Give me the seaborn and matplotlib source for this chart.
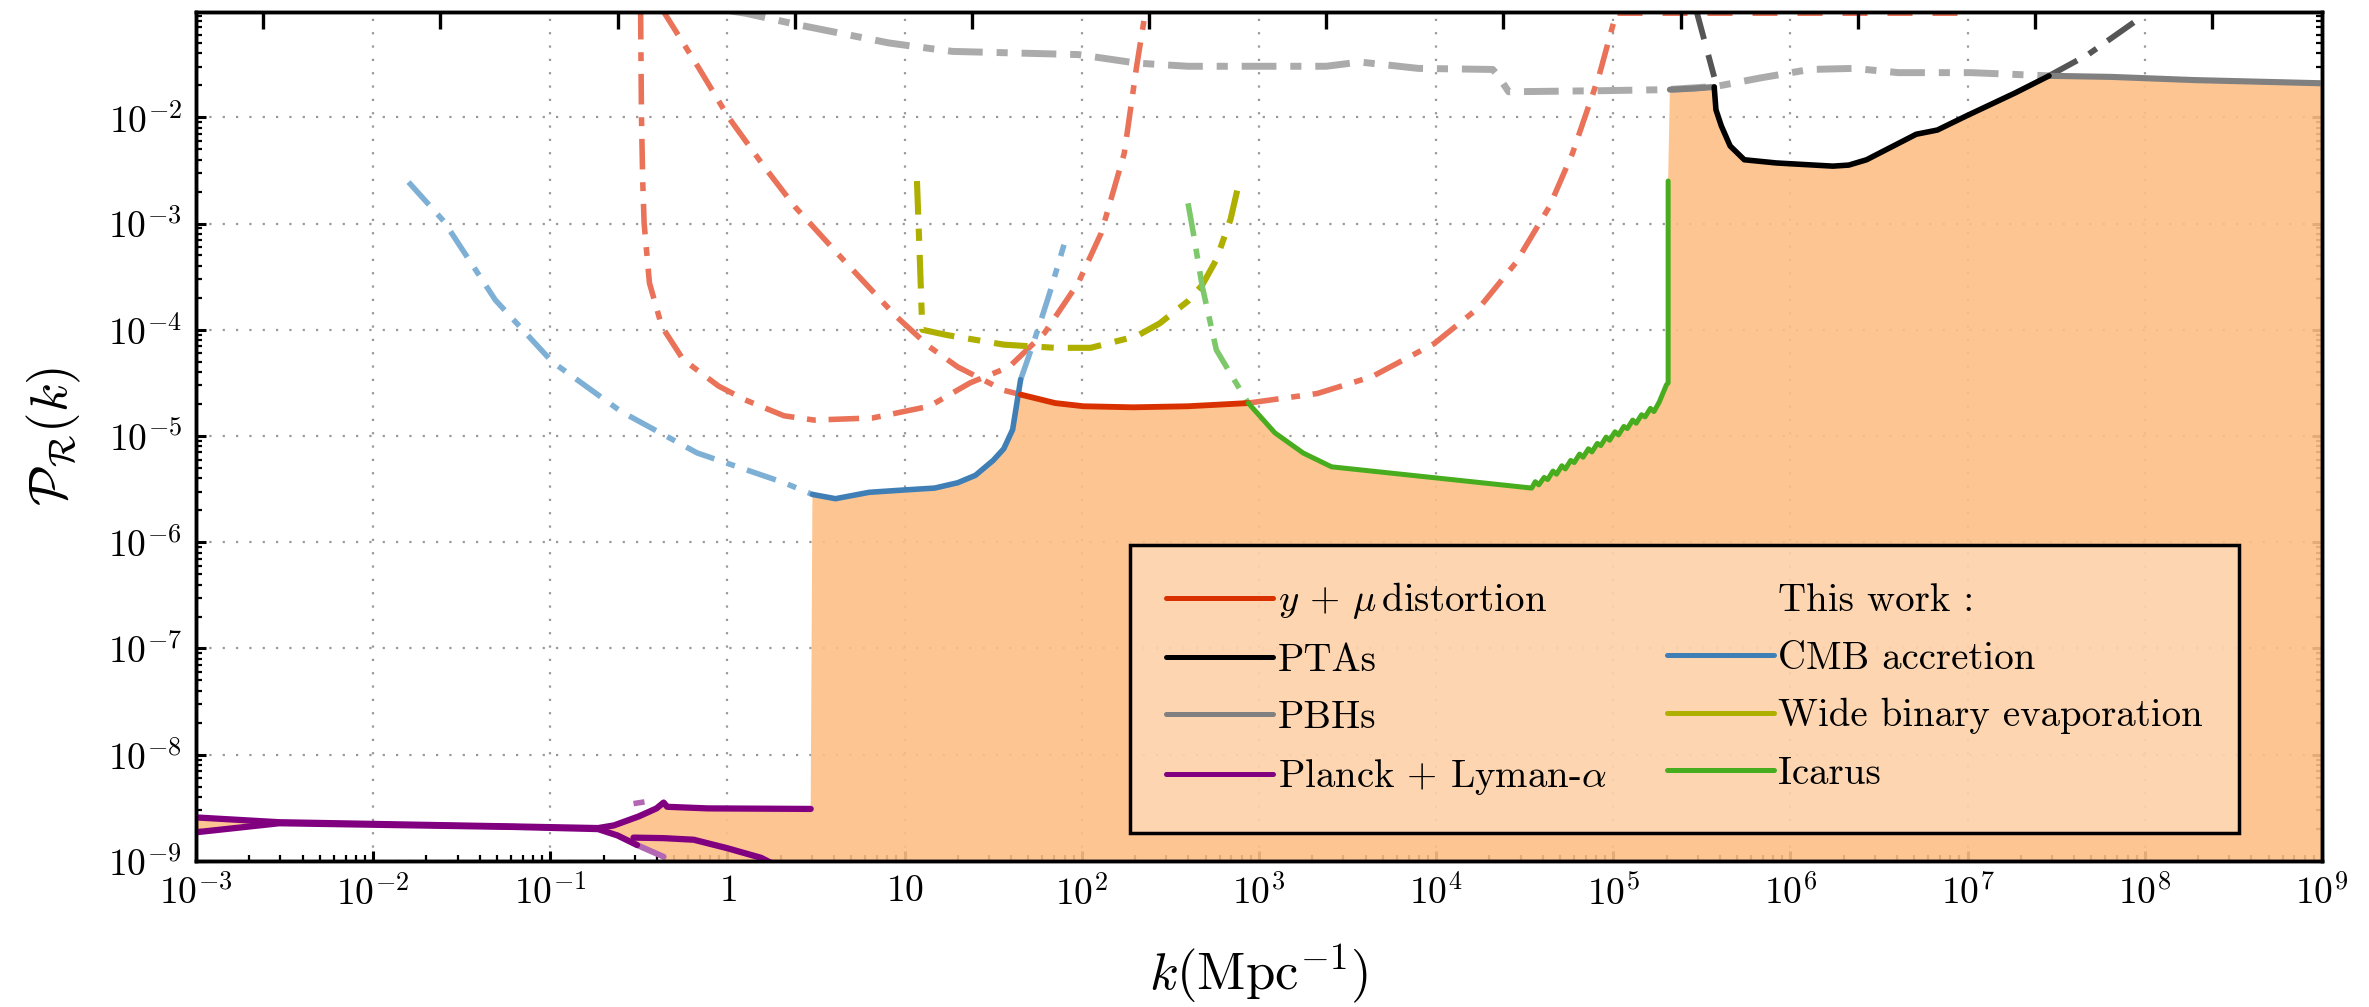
import numpy as np
import pandas as pd
import matplotlib
matplotlib.use("Agg")
import matplotlib.pyplot as plt
from matplotlib.lines import Line2D
from matplotlib.ticker import FixedLocator, FuncFormatter, LogLocator, NullFormatter, NullLocator
import seaborn as sns

# ---------------------------------------------------------------------------
# Bounds on the curvature power spectrum, stored as log10(k / Mpc^-1) and
# log10(P_R).
# ---------------------------------------------------------------------------

# Planck + Lyman-alpha
planck_upper_logk = [-3.00, -2.53, -1.20, -0.73, -0.64, -0.50, -0.40, -0.36, -0.34, -0.11, 0.47]
planck_upper_logp = [-8.59, -8.635, -8.675, -8.69, -8.665, -8.58, -8.505, -8.45, -8.49, -8.505, -8.51]
planck_lower_logk = [-3.00, -2.53, -1.20, -0.73, -0.62, -0.51]
planck_lower_logp = [-8.73, -8.645, -8.68, -8.70, -8.76, -8.85]
planck_tail_logk = [-0.51, -0.36]
planck_tail_logp = [-8.85, -8.96]
planck_branch_logk = [-0.53, -0.36, -0.19, 0.00, 0.19, 0.26]
planck_branch_logp = [-8.78, -8.785, -8.80, -8.88, -8.97, -9.03]
planck_dash_logk = [-0.53, -0.30]
planck_dash_logp = [-8.46, -8.40]

# CMB accretion (this work)
cmb_left_logk = [-1.80, -1.60, -1.31, -0.99, -0.60, -0.17, 0.32, 0.48]
cmb_left_logp = [-2.61, -2.98, -3.72, -4.30, -4.77, -5.16, -5.44, -5.55]
cmb_solid_logk = [0.48, 0.61, 0.80, 0.98, 1.17, 1.30, 1.40, 1.50, 1.56, 1.61, 1.655]
cmb_solid_logp = [-5.55, -5.59, -5.53, -5.51, -5.49, -5.44, -5.37, -5.23, -5.12, -4.94, -4.47]
cmb_right_logk = [1.655, 1.72, 1.77, 1.82, 1.90]
cmb_right_logp = [-4.47, -4.16, -3.91, -3.65, -3.20]

# y + mu spectral distortions
mu_solid_logk = [1.655, 1.85, 2.01, 2.29, 2.60, 2.94]
mu_solid_logp = [-4.61, -4.69, -4.72, -4.73, -4.72, -4.69]
mu_left_logk = [-0.37, -0.16, 0.006, 0.21, 0.38, 0.62, 0.95, 1.14, 1.30, 1.56, 1.655]
mu_left_logp = [-0.98, -1.54, -2.00, -2.47, -2.84, -3.28, -3.87, -4.16, -4.35, -4.57, -4.61]
mu_right_logk = [2.94, 3.33, 3.64, 3.99, 4.25, 4.45, 4.64, 4.77, 4.92, 5.02]
mu_right_logp = [-4.69, -4.60, -4.44, -4.13, -3.78, -3.37, -2.84, -2.34, -1.61, -1.00]
mu_top_logk = [5.02, 6.95]
mu_top_logp = [-1.018, -1.018]
mu_u_logk = [-0.49, -0.485, -0.478, -0.47, -0.44, -0.37, -0.25, -0.05, 0.10, 0.32, 0.49,
             0.82, 1.14, 1.37, 1.59, 1.79, 1.98, 2.11, 2.24, 2.31, 2.36]
mu_u_logp = [-0.98, -2.00, -2.60, -3.00, -3.56, -3.97, -4.28, -4.53, -4.66, -4.81, -4.85,
             -4.83, -4.72, -4.50, -4.35, -4.03, -3.56, -3.09, -2.34, -1.52, -1.00]

# Primordial black holes
pbh_dash_logk = [0.02, 0.10, 0.40, 0.91, 1.04, 1.27, 1.98, 2.31, 2.60, 3.38, 3.57, 3.90, 4.32,
                 4.35, 4.41, 4.93, 5.30, 5.58, 5.83, 6.11, 6.36, 6.61, 7.02, 7.46]
pbh_dash_logp = [-1.00, -1.02, -1.13, -1.30, -1.33, -1.38, -1.41, -1.49, -1.52, -1.52, -1.48, -1.54, -1.55,
                 -1.61, -1.76, -1.75, -1.74, -1.71, -1.63, -1.55, -1.54, -1.58, -1.58, -1.61]
pbh_solid1_logk = [5.32, 5.45, 5.57]
pbh_solid1_logp = [-1.74, -1.73, -1.715]
pbh_solid2_logk = [7.46, 7.81, 8.28, 9.00]
pbh_solid2_logp = [-1.61, -1.62, -1.65, -1.68]

# Pulsar timing arrays
pta_logk = [5.57, 5.58, 5.61, 5.66, 5.74, 5.92, 6.24, 6.33, 6.43, 6.71, 6.83, 6.99, 7.27, 7.46]
pta_logp = [-1.715, -1.93, -2.08, -2.27, -2.40, -2.43, -2.46, -2.45, -2.40, -2.16, -2.12, -1.99, -1.77, -1.61]
pta_left_logk = [5.47, 5.57]
pta_left_logp = [-1.00, -1.62]
pta_right_logk = [7.46, 7.68, 7.97]
pta_right_logp = [-1.61, -1.41, -1.07]

# Wide binary evaporation (this work)
wbe_logk = [1.07, 1.085, 1.10, 1.24, 1.56, 1.85, 2.05, 2.31, 2.44, 2.60, 2.68, 2.76, 2.84, 2.89]
wbe_logp = [-2.60, -3.28, -4.00, -4.05, -4.14, -4.17, -4.17, -4.06, -3.94, -3.73, -3.58, -3.34, -2.96, -2.60]

# Icarus (this work)
icarus_dash_logk = [2.60, 2.63, 2.68, 2.76, 2.86, 2.94]
icarus_dash_logp = [-2.81, -3.09, -3.59, -4.19, -4.47, -4.69]
icarus_logk = [2.94, 3.09, 3.25, 3.41, 4.54, 4.56, 4.58, 4.61, 4.63, 4.66, 4.68, 4.71, 4.73, 4.76,
               4.78, 4.81, 4.83, 4.86, 4.88, 4.91, 4.93, 4.96, 4.98, 5.01, 5.03, 5.06, 5.08, 5.11,
               5.13, 5.16, 5.18, 5.21, 5.23, 5.26, 5.28, 5.30, 5.31, 5.31]
icarus_logp = [-4.69, -4.97, -5.16, -5.29, -5.49, -5.43, -5.46, -5.39, -5.41, -5.33, -5.36, -5.28, -5.31, -5.23,
               -5.25, -5.17, -5.20, -5.12, -5.15, -5.07, -5.09, -5.01, -5.04, -4.96, -4.99, -4.91, -4.93, -4.85,
               -4.88, -4.80, -4.82, -4.74, -4.77, -4.68, -4.60, -4.52, -4.50, -2.60]

# Axis decorations
x_decades = list(range(-3, 10))
y_decades = list(range(-9, -1))
top_tick_logk = [n + 0.38 for n in range(-3, 9)]

legend_labels = [r"$y\,+\,\mu\,$distortion", "PTAs", "PBHs", r"Planck + Lyman-$\alpha$",
                 "This work :", "CMB accretion", "Wide binary evaporation", "Icarus"]

# ---------------------------------------------------------------------------
C_RED, C_RED_D = "#D93000", "#E97259"
C_BLUE, C_BLUE_D = "#3F7FB5", "#7EB0D6"
C_BLACK, C_BLACK_D = "#000000", "#555555"
C_GRAY, C_GRAY_D = "#808080", "#ABABAB"
C_PURPLE, C_PURPLE_L = "#800080", "#B366B3"
C_OLIVE = "#AFAF00"
C_GREEN, C_GREEN_D = "#48AD1E", "#7DC86A"
C_FILL = "#FDBF86"

sns.set_theme(style="ticks")
plt.rcParams.update({
    "font.family": ["cmr10", "DejaVu Serif"],
    "mathtext.fontset": "cm",
    "axes.unicode_minus": False,
    "axes.edgecolor": "black",
    "axes.linewidth": 2.5,
    "xtick.color": "black",
    "ytick.color": "black",
    "text.color": "black",
    "axes.labelcolor": "black",
})

fig = plt.figure(figsize=(23.69, 10.07), dpi=100)
ax = fig.add_axes([0.0827, 0.145, 0.8974, 0.843])
ax.set_xscale("log")
ax.set_yscale("log")


def pw(v):
    return 10.0 ** np.asarray(v, dtype=float)


def draw(logk, logp, color, lw, ls="-", alpha=1.0, z=3):
    df = pd.DataFrame({"k": pw(logk), "P": pw(logp)})
    sns.lineplot(data=df, x="k", y="P", ax=ax, color=color, linewidth=lw, linestyle=ls,
                 alpha=alpha, sort=False, estimator=None, legend=False, zorder=z)


# excluded region: envelope of the solid bounds
floor = [-10.0, -10.0]
env_logk = np.concatenate([planck_upper_logk, cmb_solid_logk, mu_solid_logk, icarus_logk,
                           pbh_solid1_logk, pta_logk, pbh_solid2_logk,
                           [pbh_solid2_logk[-1], planck_tail_logk[-1]],
                           planck_tail_logk[::-1], planck_lower_logk[::-1]])
env_logp = np.concatenate([planck_upper_logp, cmb_solid_logp, mu_solid_logp, icarus_logp,
                           pbh_solid1_logp, pta_logp, pbh_solid2_logp, floor,
                           planck_tail_logp[::-1], planck_lower_logp[::-1]])
ax.fill(pw(env_logk), pw(env_logp), color=C_FILL, alpha=0.9, lw=0, zorder=1)

dashdot = (0, (5.5, 2.3, 1.6, 2.3))

# projected / extended curves
draw(mu_u_logk, mu_u_logp, C_RED_D, 4.0, dashdot, z=2)
draw(mu_left_logk, mu_left_logp, C_RED_D, 4.0, dashdot, z=2)
draw(mu_right_logk, mu_right_logp, C_RED_D, 4.0, dashdot, z=2)
draw(mu_top_logk, mu_top_logp, C_RED_D, 3.6, (0, (5, 4)), z=2)
draw(pbh_dash_logk, pbh_dash_logp, C_GRAY_D, 5.0, (0, (5.0, 2.0, 1.6, 2.0)), z=2)
draw(pta_left_logk, pta_left_logp, C_BLACK_D, 4.2, (0, (5.0, 2.8)), z=2)
draw(pta_right_logk, pta_right_logp, C_BLACK_D, 4.2, dashdot, z=2)
draw(cmb_left_logk, cmb_left_logp, C_BLUE_D, 4.0, dashdot, z=2)
draw(cmb_right_logk, cmb_right_logp, C_BLUE_D, 4.0, dashdot, z=2)
draw(wbe_logk, wbe_logp, C_OLIVE, 4.4, (0, (5.5, 2.3, 2.0, 2.3)), z=2)
draw(icarus_dash_logk, icarus_dash_logp, C_GREEN_D, 4.0, (0, (6, 2.3, 1.8, 2.3)), z=2)
draw(planck_dash_logk, planck_dash_logp, C_PURPLE_L, 4.0, (0, (2.0, 5.5)), z=2)
draw(planck_tail_logk, planck_tail_logp, C_PURPLE_L, 4.3, z=2)

# solid bounds
draw(planck_upper_logk, planck_upper_logp, C_PURPLE, 4.5)
draw(planck_lower_logk, planck_lower_logp, C_PURPLE, 4.5)
draw(planck_branch_logk, planck_branch_logp, C_PURPLE, 4.5)
draw(cmb_solid_logk, cmb_solid_logp, C_BLUE, 4.0)
draw(mu_solid_logk, mu_solid_logp, C_RED, 4.2)
draw(icarus_logk, icarus_logp, C_GREEN, 3.6)
draw(pbh_solid1_logk, pbh_solid1_logp, C_GRAY, 4.4)
draw(pbh_solid2_logk, pbh_solid2_logp, C_GRAY, 4.4)
draw(pta_logk, pta_logp, C_BLACK, 4.0)

# axes, ticks and grid
ax.set_xlim(1e-3, 1e9)
ax.set_ylim(1e-9, 10 ** -1.01)


def decade_label(v, pos):
    e = int(round(np.log10(v)))
    if e == 0:
        return r"$1$"
    if e == 1:
        return r"$10$"
    return r"$10^{%d}$" % e


ax.xaxis.set_major_locator(FixedLocator(pw(x_decades)))
ax.yaxis.set_major_locator(FixedLocator(pw(y_decades)))
ax.xaxis.set_major_formatter(FuncFormatter(decade_label))
ax.yaxis.set_major_formatter(FuncFormatter(decade_label))
ax.xaxis.set_minor_locator(LogLocator(base=10, subs=np.arange(2, 10), numticks=200))
ax.yaxis.set_minor_locator(LogLocator(base=10, subs=np.arange(2, 10), numticks=200))
ax.xaxis.set_minor_formatter(NullFormatter())
ax.yaxis.set_minor_formatter(NullFormatter())
ax.tick_params(which="both", direction="in", top=False, right=True, left=True, bottom=True,
               colors="black")
ax.tick_params(which="major", length=7.5, width=2.2, labelsize=27, pad=10)
ax.tick_params(which="minor", length=4.2, width=1.6)
ax.grid(True, which="major", linestyle=(0, (1, 5)), color="#999999", linewidth=1.6)
ax.set_axisbelow(True)
for s in ax.spines.values():
    s.set_linewidth(2.5)
    s.set_color("black")

ax.set_xlabel(r"$k(\mathrm{Mpc}^{-1})$", fontsize=38, labelpad=22)
ax.set_ylabel(r"$\mathcal{P}_\mathcal{R}(k)$", fontsize=38, labelpad=18)

# unlabelled ticks along the upper edge
ax_top = ax.twiny()
ax_top.set_xscale("log")
ax_top.set_xlim(ax.get_xlim())
ax_top.xaxis.set_major_locator(FixedLocator(pw(top_tick_logk)))
ax_top.xaxis.set_minor_locator(NullLocator())
ax_top.tick_params(axis="x", which="major", direction="in", length=12, width=2.4,
                   top=True, bottom=False, labeltop=False, labelbottom=False)
for s in ax_top.spines.values():
    s.set_linewidth(2.5)
    s.set_color("black")

# legend
handles = [
    Line2D([], [], color=C_RED, lw=3.6),
    Line2D([], [], color=C_BLACK, lw=3.6),
    Line2D([], [], color=C_GRAY, lw=3.6),
    Line2D([], [], color=C_PURPLE, lw=3.6),
    Line2D([], [], color="none", lw=0),
    Line2D([], [], color=C_BLUE, lw=3.6),
    Line2D([], [], color=C_OLIVE, lw=3.6),
    Line2D([], [], color=C_GREEN, lw=3.6),
]
leg = ax.legend(handles, legend_labels, ncol=2, loc="lower right", bbox_to_anchor=(0.961, 0.033),
                fontsize=28, handlelength=2.75, handletextpad=0.12, columnspacing=1.55,
                labelspacing=0.55, borderpad=0.92, borderaxespad=0, frameon=True, fancybox=False)
frame = leg.get_frame()
frame.set_alpha(None)
frame.set_facecolor((1, 1, 1, 0.28))
frame.set_edgecolor("black")
frame.set_linewidth(2.5)
leg.set_zorder(10)

fig.savefig("out.png", dpi=100)
